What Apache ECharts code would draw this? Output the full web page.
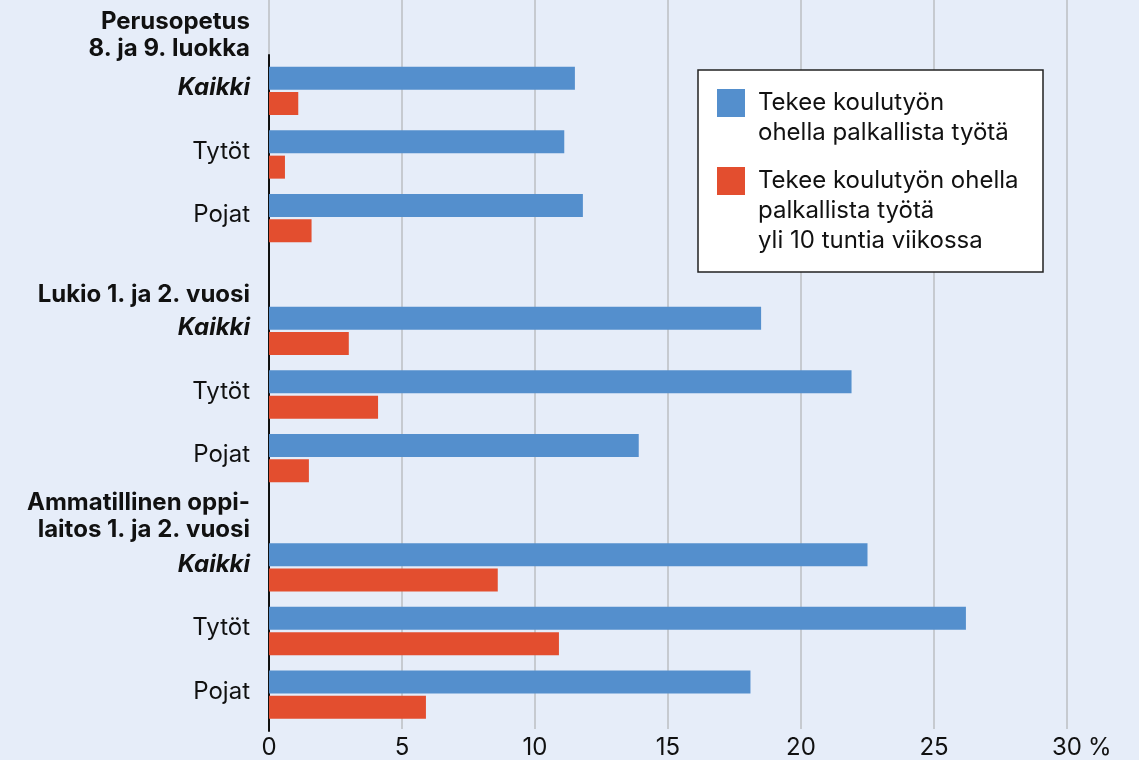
<!DOCTYPE html>
<html>
<head>
<meta charset="utf-8">
<script src="https://cdn.jsdelivr.net/npm/echarts@6/dist/echarts.min.js"></script>
<style>
  html, body { margin: 0; padding: 0; background: #e6edf9; }
  #chart { width: 1139px; height: 760px; }
</style>
</head>
<body>
<div id="chart"></div>
<script>
// rivit ja ryhmät
const categories = ['Kaikki', 'Tytöt', 'Pojat']
const groupTitles = ['Perusopetus\n8. ja 9. luokka', 'Lukio 1. ja 2. vuosi', 'Ammatillinen oppi-\nlaitos 1. ja 2. vuosi']
const seriesNames = ['Tekee koulutyön\nohella palkallista työtä', 'Tekee koulutyön ohella\npalkallista työtä\nyli 10 tuntia viikossa']

// % osuudet
const perusWork = [11.5, 11.1, 11.8]
const perusOver10 = [1.1, 0.6, 1.6]
const lukioWork = [18.5, 21.9, 13.9]
const lukioOver10 = [3.0, 4.1, 1.5]
const ammWork = [22.5, 26.2, 18.1]
const ammOver10 = [8.6, 10.9, 5.9]

const xTicks = [0, 5, 10, 15, 20, 25, 30]

const work = [perusWork, lukioWork, ammWork]
const over10 = [perusOver10, lukioOver10, ammOver10]

const font = 'Inter, "Noto Sans", sans-serif'
const blue = '#548fcd'
const red = '#e34e2f'
const ink = '#111'

// kolmen ryhmän paikat (px)
const groupTops = [59, 299, 535.5]
const groupHeight = 191
const titleTops = [8, 281, 489]

const chart = echarts.init(document.getElementById('chart'))

const grids = groupTops.map(t => ({left: 269, right: 72, top: t, height: groupHeight}))
grids.push({left: 269, right: 72, top: 0, bottom: 29})   // taustaviivat
grids.push({left: 269, right: 72, top: 55, bottom: 29})  // y-akselin viiva

const xAxis = groupTops.map((t, i) => ({
  type: 'value', gridIndex: i, min: 0, max: 30, show: false
}))
xAxis.push({
  type: 'value', gridIndex: 3, min: 0, max: 30, interval: 5,
  name: '%', nameLocation: 'end', nameGap: 21,
  nameTextStyle: {fontFamily: font, fontSize: 24, color: ink, verticalAlign: 'top', padding: [7, 0, 0, 0]},
  axisLine: {show: false},
  axisTick: {show: false},
  axisLabel: {margin: 7, fontFamily: font, fontSize: 24, color: ink,
    formatter: v => xTicks.includes(v) ? String(v) : ''},
  splitLine: {show: true, lineStyle: {color: '#c6cad0', width: 2}}
})
xAxis.push({type: 'value', gridIndex: 4, min: 0, max: 30, show: false})

const yAxis = groupTops.map((t, i) => ({
  type: 'category', gridIndex: i, inverse: true, data: categories,
  axisLine: {show: false},
  axisTick: {show: false},
  axisLabel: {
    margin: 19, fontFamily: font, fontSize: 24, color: ink, padding: [0, 0, 6, 0],
    formatter: v => v === 'Kaikki' ? '{k|' + v + '}' : v,
    rich: {k: {fontFamily: font, fontSize: 24, fontWeight: 'bold', fontStyle: 'italic', color: ink}}
  }
}))
yAxis.push({type: 'value', gridIndex: 3, show: false})
yAxis.push({
  type: 'value', gridIndex: 4,
  axisLine: {show: true, lineStyle: {color: ink, width: 2}},
  axisTick: {show: false}, axisLabel: {show: false}, splitLine: {show: false}
})

const series = []
work.forEach((d, i) => {
  series.push({
    type: 'bar', name: seriesNames[0], xAxisIndex: i, yAxisIndex: i, data: d,
    barWidth: 23, barGap: '10%', itemStyle: {color: blue}, silent: true
  })
  series.push({
    type: 'bar', name: seriesNames[1], xAxisIndex: i, yAxisIndex: i, data: over10[i],
    barWidth: 23, barGap: '10%', itemStyle: {color: red}, silent: true
  })
})

// tyhjät rivit ylös, jotta ensimmäinen rivi osuu ruudun kohdalle
const padTop = name => {
  const n = name.split('\n').length - 1
  return '\u00a0\n'.repeat(n) + name
}

chart.setOption({
  backgroundColor: '#e6edf9',
  animation: false,
  grid: grids,
  xAxis,
  yAxis,
  series,
  legend: {
    orient: 'vertical', left: 717, top: 58, padding: 0,
    itemWidth: 28, itemHeight: 28, itemGap: -42, z: 10,
    icon: 'rect', selectedMode: false,
    textStyle: {fontFamily: font, fontSize: 24, lineHeight: 30, color: ink, padding: [0, 0, 0, 8]},
    formatter: padTop,
    data: seriesNames
  },
  graphic: [
    {type: 'rect', z: 5, shape: {x: 698, y: 70, width: 345, height: 202},
      style: {fill: '#fff', stroke: '#222', lineWidth: 1.5}}
  ].concat(groupTitles.map((t, i) => ({
    type: 'text', z: 5, x: 250, y: titleTops[i],
    style: {text: t, fontFamily: font, fontSize: 24, fontWeight: 'bold', lineHeight: 27,
      fill: ink, align: 'right', verticalAlign: 'top'}
  })))
})
</script>
</body>
</html>
